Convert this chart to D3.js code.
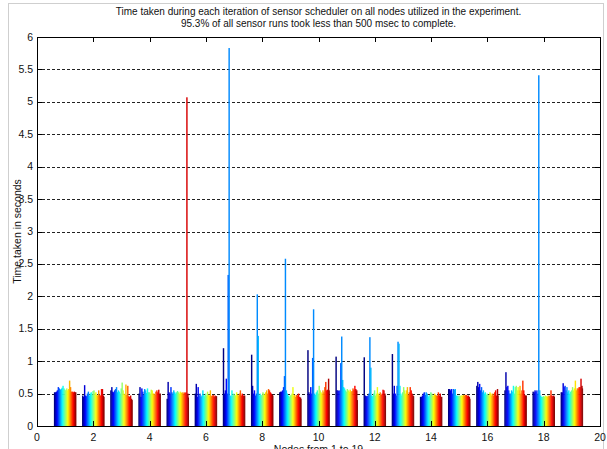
<!DOCTYPE html>
<html>
<head>
<meta charset="utf-8">
<script src="https://cdn.jsdelivr.net/npm/d3@7"></script>
<style>
  body { margin: 0; background: #fff; }
  text { font-family: "Liberation Sans", Arial, sans-serif; }
</style>
</head>
<body>
<div id="chart"></div>
<script>
// nodes 1..19, 24 sensor runs each (seconds)
var nodes = d3.range(1, 20);
var node1  = [0.52,0.52,0.53,0.55,0.60,0.58,0.56,0.57,0.59,0.62,0.58,0.56,0.55,0.58,0.55,0.57,0.70,0.60,0.53,0.53,0.52,0.53,0.52,0.52];
var node2  = [0.47,0.45,0.63,0.47,0.46,0.50,0.53,0.47,0.50,0.52,0.48,0.54,0.55,0.50,0.52,0.48,0.47,0.55,0.48,0.47,0.57,0.57,0.47,0.45];
var node3  = [0.55,0.60,0.53,0.52,0.55,0.57,0.60,0.52,0.55,0.53,0.50,0.58,0.67,0.55,0.50,0.48,0.64,0.48,0.62,0.46,0.45,0.47,0.42,0.40];
var node4  = [0.50,0.60,0.45,0.58,0.53,0.48,0.57,0.55,0.51,0.58,0.52,0.52,0.50,0.56,0.55,0.50,0.50,0.48,0.53,0.55,0.52,0.56,0.50,0.50];
var node5  = [0.42,0.68,0.52,0.50,0.60,0.52,0.50,0.55,0.52,0.50,0.52,0.54,0.52,0.50,0.53,0.51,0.52,0.50,0.52,0.51,0.52,5.07,0.50,0.44];
var node6  = [0.50,0.65,0.45,0.60,0.47,0.50,0.45,0.47,0.55,0.48,0.46,0.50,0.47,0.53,0.48,0.47,0.55,0.46,0.47,0.48,0.45,0.47,0.46,0.46];
var node7  = [1.20,0.50,0.55,0.73,0.50,2.33,5.83,0.47,0.46,0.55,0.47,0.50,0.48,0.47,0.52,0.48,0.47,0.50,0.55,0.47,0.50,0.47,0.47,0.47];
var node8  = [1.10,0.62,0.50,0.55,0.47,0.50,2.03,1.39,0.47,0.50,0.47,0.48,0.52,0.50,0.48,0.52,0.55,0.50,0.57,0.55,0.52,0.50,0.48,0.47];
var node9  = [0.52,0.53,0.53,0.55,0.60,0.77,2.58,0.55,0.50,0.47,0.45,0.47,0.48,0.50,0.60,0.47,0.48,0.45,0.48,0.47,0.50,0.45,0.44,0.42];
var node10 = [1.17,0.52,0.48,0.60,0.50,1.05,1.80,0.50,0.48,0.52,0.55,0.50,0.62,0.55,0.52,0.50,0.55,0.52,0.60,0.68,0.55,0.56,0.73,0.55];
var node11 = [1.07,0.55,0.55,0.54,0.55,0.97,1.38,0.71,0.60,0.58,0.55,0.53,0.57,0.55,0.53,0.56,0.53,0.54,0.58,0.56,0.62,0.57,0.55,0.40];
var node12 = [1.06,0.47,0.46,0.46,0.47,0.50,1.37,0.90,0.47,0.46,0.50,0.55,0.47,0.50,0.60,0.50,0.47,0.52,0.48,0.50,0.56,0.55,0.50,0.47];
var node13 = [1.11,0.50,0.62,0.50,0.47,0.62,1.30,1.27,0.62,0.50,0.47,0.52,0.60,0.55,0.50,0.55,0.60,0.48,0.52,0.60,0.55,0.50,0.47,0.46];
var node14 = [0.45,0.45,0.47,0.50,0.52,0.48,0.52,0.50,0.45,0.47,0.48,0.52,0.50,0.47,0.47,0.50,0.48,0.47,0.47,0.52,0.47,0.50,0.45,0.45];
var node15 = [0.57,0.57,0.55,0.57,0.50,0.57,0.56,0.57,0.47,0.47,0.46,0.47,0.46,0.47,0.47,0.47,0.48,0.47,0.48,0.48,0.46,0.47,0.45,0.42];
var node16 = [0.62,0.68,0.60,0.65,0.55,0.60,0.52,0.55,0.50,0.52,0.48,0.50,0.48,0.47,0.52,0.50,0.47,0.50,0.47,0.52,0.55,0.47,0.57,0.47];
var node17 = [0.55,0.83,0.60,0.62,0.55,0.50,0.50,0.55,0.53,0.62,0.50,0.60,0.62,0.55,0.60,0.55,0.62,0.50,0.55,0.70,0.55,0.48,0.47,0.47];
var node18 = [0.53,0.52,0.55,0.53,0.55,0.50,5.41,0.55,0.47,0.45,0.45,0.46,0.45,0.47,0.46,0.45,0.47,0.46,0.47,0.55,0.47,0.46,0.47,0.45];
var node19 = [0.52,0.52,0.66,0.60,0.62,0.55,0.60,0.52,0.55,0.50,0.53,0.55,0.60,0.55,0.58,0.70,0.55,0.58,0.58,0.60,0.60,0.73,0.62,0.58];

var runs = [node1, node2, node3, node4, node5, node6, node7, node8, node9, node10,
            node11, node12, node13, node14, node15, node16, node17, node18, node19];

var xTicks = d3.range(0, 21, 2);
var yTicks = d3.range(0, 6.01, 0.5);

var titleLines = ['Time taken during each iteration of sensor scheduler on all nodes utilized in the experiment.',
                  '95.3% of all sensor runs took less than 500 msec to complete.'];

var W = 607, H = 449;
var mLeft = 37, mRight = 600, mTop = 37, mBottom = 426;

var svg = d3.select('#chart').append('svg')
    .attr('width', W)
    .attr('height', H);

// figure frame (screenshot border)
svg.append('rect')
    .attr('x', 8.5).attr('y', 3.5)
    .attr('width', 595).attr('height', 460)
    .attr('fill', 'none')
    .attr('stroke', '#cfcfcf');

var x = d3.scaleLinear().domain([0, 20]).range([mLeft, mRight]);
var y = d3.scaleLinear().domain([0, 6]).range([mBottom, mTop]);

// matlab jet colormap
var jet = d3.scaleLinear()
    .domain([0, 1/8, 3/8, 5/8, 7/8, 1])
    .range(['#000080', '#0000ff', '#00ffff', '#ffff00', '#ff0000', '#800000'])
    .interpolate(d3.interpolateRgb);

var nRuns = node1.length;
var groupW = 0.8;
var barW = groupW / nRuns;

// gridlines
svg.append('g').selectAll('line')
    .data(yTicks.filter(function(d){ return d > 0 && d < 6; }))
    .enter().append('line')
    .attr('x1', mLeft).attr('x2', mRight)
    .attr('y1', function(d){ return Math.round(y(d)) + 0.5; })
    .attr('y2', function(d){ return Math.round(y(d)) + 0.5; })
    .attr('stroke', '#222')
    .attr('stroke-dasharray', '3,2');

// bars
var flat = [];
runs.forEach(function(vals, n){
  vals.forEach(function(v, i){
    flat.push({node: nodes[n], run: i, value: v});
  });
});

// slight overlap so the thin bars read as a solid block like the original
var pxW = x(barW) - x(0);
svg.append('g').selectAll('rect')
    .data(flat)
    .enter().append('rect')
    .attr('x', function(d){ return x(d.node - groupW / 2 + d.run * barW); })
    .attr('width', function(d){ return d.run === nRuns - 1 ? pxW : pxW + 0.5; })
    .attr('y', function(d){ return y(d.value); })
    .attr('height', function(d){ return y(0) - y(d.value); })
    .attr('fill', function(d){ return jet(d.run / (nRuns - 1)); });

// axes box
svg.append('rect')
    .attr('x', mLeft + 0.5).attr('y', mTop + 0.5)
    .attr('width', mRight - mLeft).attr('height', mBottom - mTop)
    .attr('fill', 'none')
    .attr('stroke', '#000');

var axes = svg.append('g');

// x ticks top & bottom, inward
xTicks.forEach(function(t){
  var px = Math.round(x(t)) + 0.5;
  axes.append('line').attr('x1', px).attr('x2', px)
      .attr('y1', mBottom).attr('y2', mBottom - 5).attr('stroke', '#000');
  axes.append('line').attr('x1', px).attr('x2', px)
      .attr('y1', mTop).attr('y2', mTop + 5).attr('stroke', '#000');
  axes.append('text')
      .attr('x', x(t)).attr('y', mBottom + 15)
      .attr('text-anchor', 'middle')
      .attr('font-size', '10.5px')
      .attr('fill', '#111')
      .text(t);
});

// y ticks left & right, inward
yTicks.forEach(function(t){
  var py = Math.round(y(t)) + 0.5;
  axes.append('line').attr('x1', mLeft).attr('x2', mLeft + 5)
      .attr('y1', py).attr('y2', py).attr('stroke', '#000');
  axes.append('line').attr('x1', mRight).attr('x2', mRight - 5)
      .attr('y1', py).attr('y2', py).attr('stroke', '#000');
  axes.append('text')
      .attr('x', mLeft - 4).attr('y', y(t) + 3.5)
      .attr('text-anchor', 'end')
      .attr('font-size', '10.5px')
      .attr('fill', '#111')
      .text(t);
});

// title
svg.append('g').selectAll('text')
    .data(titleLines)
    .enter().append('text')
    .attr('x', (mLeft + mRight) / 2)
    .attr('y', function(d, i){ return 15 + i * 12; })
    .attr('text-anchor', 'middle')
    .attr('font-size', '10px')
    .attr('fill', '#111')
    .text(function(d){ return d; });

// axis labels
svg.append('text')
    .attr('transform', 'translate(21,' + ((mTop + mBottom) / 2) + ') rotate(-90)')
    .attr('text-anchor', 'middle')
    .attr('font-size', '10.5px')
    .attr('fill', '#111')
    .text('Time taken in seconds');

svg.append('text')
    .attr('x', (mLeft + mRight) / 2)
    .attr('y', 453)
    .attr('text-anchor', 'middle')
    .attr('font-size', '10.5px')
    .attr('fill', '#111')
    .text('Nodes from 1 to 19');
</script>
</body>
</html>
